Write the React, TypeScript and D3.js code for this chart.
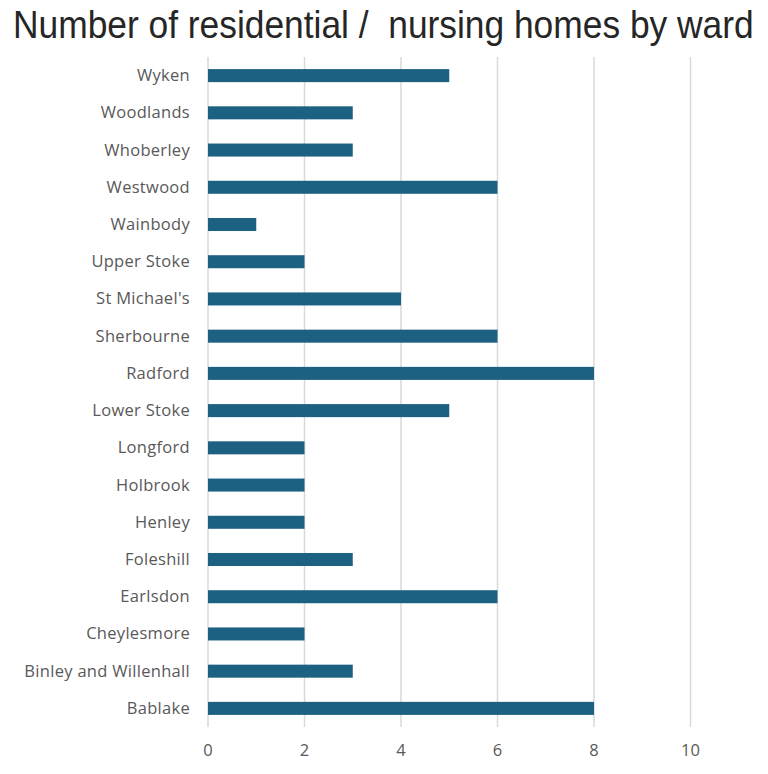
import { useEffect, useRef } from 'react';
import * as d3 from 'd3';

const wards = [
  'Wyken',
  'Woodlands',
  'Whoberley',
  'Westwood',
  'Wainbody',
  'Upper Stoke',
  "St Michael's",
  'Sherbourne',
  'Radford',
  'Lower Stoke',
  'Longford',
  'Holbrook',
  'Henley',
  'Foleshill',
  'Earlsdon',
  'Cheylesmore',
  'Binley and Willenhall',
  'Bablake',
];
const homes = [5, 3, 3, 6, 1, 2, 4, 6, 8, 5, 2, 2, 2, 3, 6, 2, 3, 8];
const xTicks = [0, 2, 4, 6, 8, 10];

const App = () => {
  const svgRef = useRef<SVGSVGElement>(null!);
  const width = 768;
  const height = 774;
  const left = 208;
  const right = 690.5;
  const top = 57;
  const bottom = 727;

  useEffect(() => {
    const svg = d3.select(svgRef.current);
    svg.selectAll('*').remove();

    const x = d3.scaleLinear().domain([0, 10]).range([left, right]);
    const y = d3.scaleBand<string>().domain(wards).range([top, bottom]).paddingInner(0.65).paddingOuter(0.325);

    // title: regular sans squashed horizontally to look condensed
    const title = svg
      .append('text')
      .attr('font-family', '"Liberation Sans", Arial, sans-serif')
      .attr('font-size', 38)
      .attr('fill', '#262626')
      .text('Number of residential /\u00a0 nursing homes by ward');
    const natural = (title.node() as SVGTextElement).getComputedTextLength() || 741;
    title.attr('transform', `translate(13,37.5) scale(${741 / natural},1)`);

    // vertical gridlines
    svg
      .append('g')
      .selectAll('line')
      .data(xTicks)
      .enter()
      .append('line')
      .attr('x1', d => x(d))
      .attr('x2', d => x(d))
      .attr('y1', top)
      .attr('y2', bottom)
      .attr('stroke', '#d9d9d9')
      .attr('stroke-width', 1.5);

    svg
      .append('g')
      .selectAll('rect')
      .data(homes)
      .enter()
      .append('rect')
      .attr('x', x(0))
      .attr('y', (_, i) => y(wards[i])!)
      .attr('width', d => x(d) - x(0))
      .attr('height', y.bandwidth())
      .attr('fill', '#1c6182');

    svg
      .append('g')
      .selectAll('text')
      .data(wards)
      .enter()
      .append('text')
      .attr('x', 190)
      .attr('y', d => y(d)! + y.bandwidth() / 2)
      .attr('dy', '0.33em')
      .attr('text-anchor', 'end')
      .attr('font-family', '"Open Sans", sans-serif')
      .attr('font-size', 16.5)
      .attr('letter-spacing', 0.3)
      .attr('fill', '#595959')
      .text(d => d);

    svg
      .append('g')
      .selectAll('text')
      .data(xTicks)
      .enter()
      .append('text')
      .attr('x', d => x(d))
      .attr('y', 750)
      .attr('dy', '0.35em')
      .attr('text-anchor', 'middle')
      .attr('font-family', '"Open Sans", sans-serif')
      .attr('font-size', 16.5)
      .attr('fill', '#595959')
      .text(d => d);
  }, []);

  return <svg ref={svgRef} width={width} height={height} style={{ position: 'absolute', left: 0, top: 0 }}></svg>;
};

export default App;
